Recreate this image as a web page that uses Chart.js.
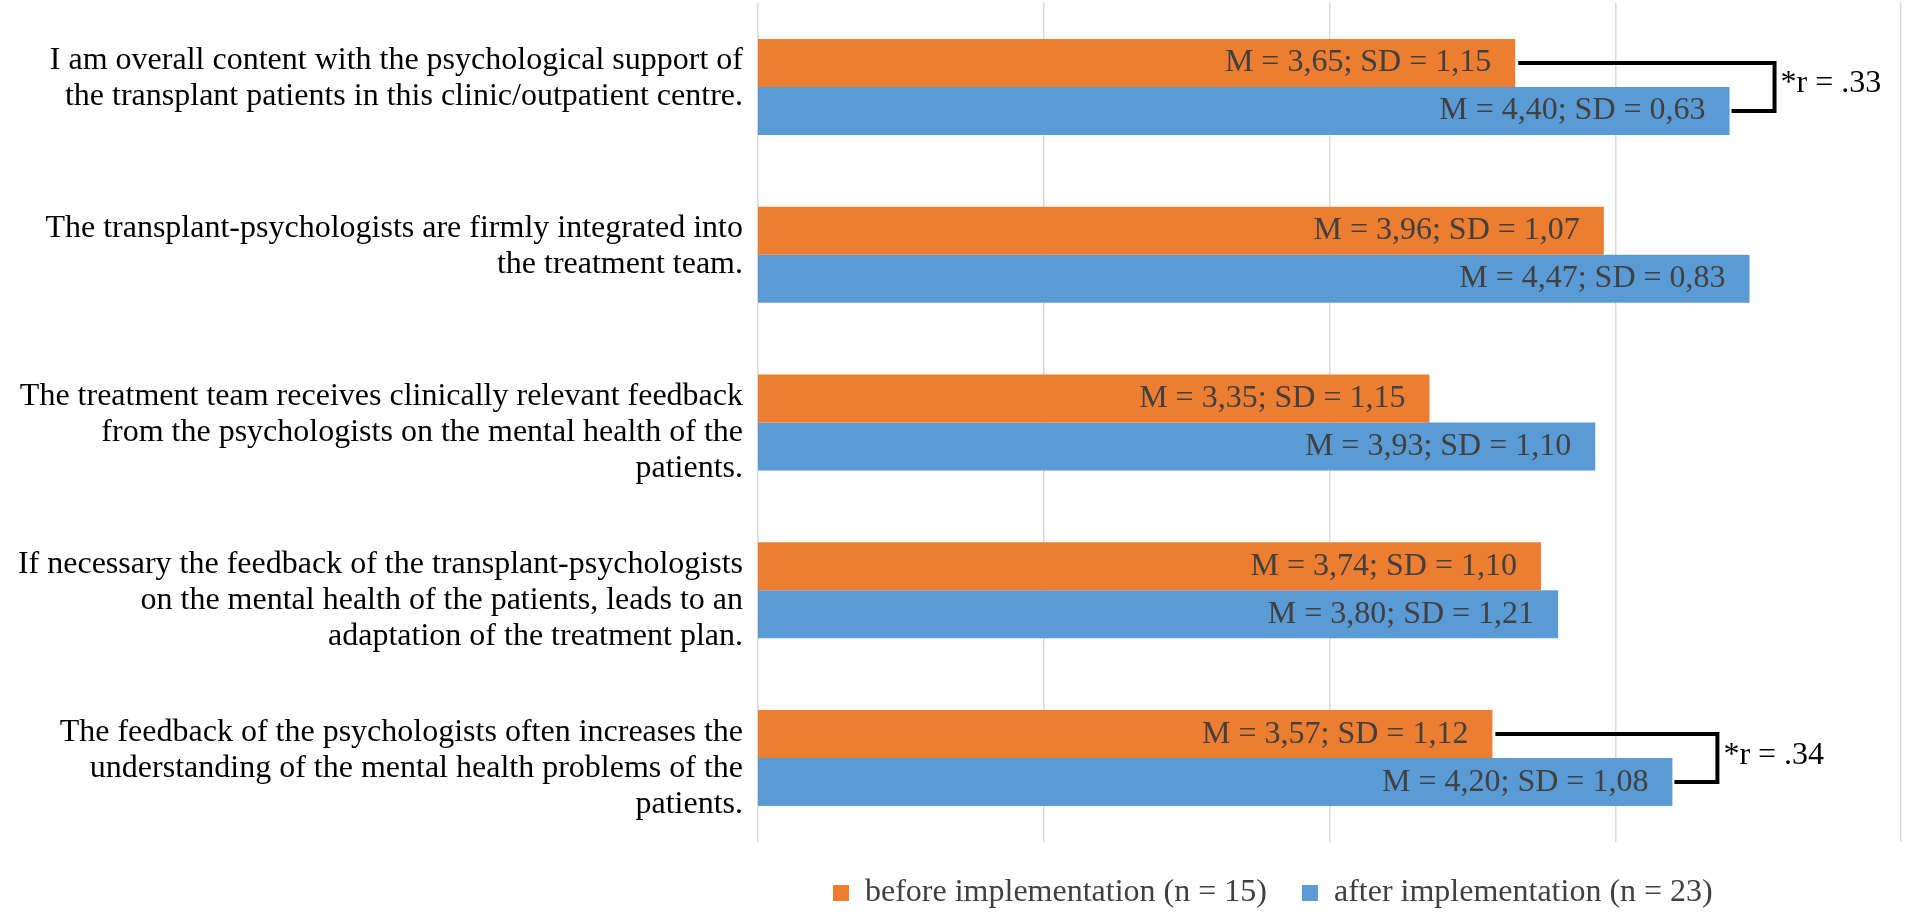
<!DOCTYPE html>
<html>
<head>
<meta charset="utf-8">
<script src="https://cdn.jsdelivr.net/npm/chart.js@4"></script>
<style>
html, body { margin: 0; padding: 0; background: #ffffff; }
#wrap { width: 1907px; height: 919px; position: relative; }
</style>
</head>
<body>
<div id="wrap"><canvas id="c"></canvas></div>
<script>
// ---- data ----
const categories = [
  ["I am overall content with the psychological support of", "the transplant patients in this clinic/outpatient centre.", ""],
  ["The transplant-psychologists are firmly integrated into", "the treatment team.", ""],
  ["The treatment team receives clinically relevant feedback", "from the psychologists on the mental health of the", "patients."],
  ["If necessary the feedback of the transplant-psychologists", "on the mental health of the patients, leads to an", "adaptation of the treatment plan."],
  ["The feedback of the psychologists often increases the", "understanding of the mental health problems of the", "patients."]
];
const seriesNames = ["before implementation (n = 15)", "after implementation (n = 23)"];
const beforeMean = [3.65, 3.96, 3.35, 3.74, 3.57];
const beforeSD   = [1.15, 1.07, 1.15, 1.10, 1.12];
const afterMean  = [4.40, 4.47, 3.93, 3.80, 4.20];
const afterSD    = [0.63, 0.83, 1.10, 1.21, 1.08];
const sigGroups  = [0, 4];
const sigLabels  = ["*r = .33", "*r = .34"];
const xTicks     = [1, 2, 3, 4, 5];

// ---- styling ----
const FONT = "'Liberation Serif', 'Times New Roman', serif";
const fmt = v => v.toFixed(2).replace('.', ',');

const valueLabels = {
  id: 'valueLabels',
  afterDatasetsDraw(chart) {
    const c = chart.ctx;
    c.save();
    c.font = '32px ' + FONT;
    c.fillStyle = '#404040';
    c.textAlign = 'right';
    c.textBaseline = 'middle';
    [[beforeMean, beforeSD], [afterMean, afterSD]].forEach(([m, s], di) => {
      const meta = chart.getDatasetMeta(di);
      meta.data.forEach((el, i) => {
        c.fillText('M = ' + fmt(m[i]) + '; SD = ' + fmt(s[i]), el.x - 24, el.y);
      });
    });
    c.restore();
  }
};

const brackets = {
  id: 'brackets',
  afterDatasetsDraw(chart) {
    const c = chart.ctx;
    const m0 = chart.getDatasetMeta(0), m1 = chart.getDatasetMeta(1);
    c.save();
    sigGroups.forEach((g, k) => {
      const a = m0.data[g], b = m1.data[g];
      const xb = Math.max(a.x, b.x) + 45;
      c.beginPath();
      c.moveTo(a.x + 3, a.y);
      c.lineTo(xb, a.y);
      c.lineTo(xb, b.y);
      c.lineTo(b.x + 2, b.y);
      c.lineWidth = 4;
      c.strokeStyle = '#000000';
      c.lineJoin = 'miter';
      c.stroke();
      c.font = '32px ' + FONT;
      c.fillStyle = '#000000';
      c.textAlign = 'left';
      c.textBaseline = 'middle';
      c.fillText(sigLabels[k], xb + 6, (a.y + b.y) / 2 - 3);
    });
    c.restore();
  }
};

const legendShift = {
  id: 'legendShift',
  afterLayout(chart) {
    const lg = chart.legend;
    if (lg) {
      const w = lg.right - lg.left;
      lg.left = 798;
      lg.right = 798 + w;
    }
  }
};

new Chart(document.getElementById('c'), {
  type: 'bar',
  data: {
    labels: categories,
    datasets: [
      { label: seriesNames[0], data: beforeMean, backgroundColor: '#ED7D31', borderWidth: 0,
        categoryPercentage: 0.572, barPercentage: 1 },
      { label: seriesNames[1], data: afterMean, backgroundColor: '#5B9BD5', borderWidth: 0,
        categoryPercentage: 0.572, barPercentage: 1 }
    ]
  },
  options: {
    indexAxis: 'y',
    responsive: true,
    maintainAspectRatio: false,
    animation: false,
    layout: { padding: { top: 3, right: 6, bottom: 0, left: 0 } },
    scales: {
      x: {
        type: 'linear',
        min: 1, max: 5,
        afterBuildTicks: s => { s.ticks = xTicks.map(v => ({ value: v })); },
        ticks: { display: false },
        grid: { color: '#D9D9D9', lineWidth: 1.5, drawTicks: false },
        border: { display: false }
      },
      y: {
        type: 'category',
        grid: { display: false, drawTicks: false },
        border: { display: false },
        ticks: {
          autoSkip: false,
          color: '#000000',
          padding: 15,
          labelOffset: 10,
          font: { family: FONT, size: 32, lineHeight: 1.125 }
        },
        afterFit: s => { s.width = 758; s.paddingTop = 0; s.paddingBottom = 0; }
      }
    },
    plugins: {
      legend: {
        position: 'bottom',
        align: 'start',
        labels: {
          boxWidth: 16, boxHeight: 16, padding: 35,
          color: '#404040',
          font: { family: FONT, size: 32 }
        }
      },
      tooltip: { enabled: false }
    }
  },
  plugins: [valueLabels, brackets, legendShift]
});
</script>
</body>
</html>
